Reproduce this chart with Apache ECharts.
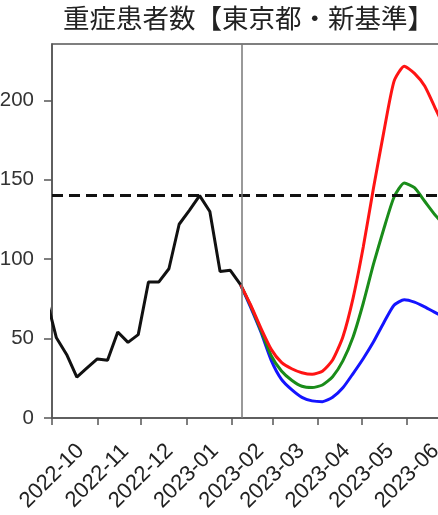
<!DOCTYPE html>
<html><head><meta charset="utf-8">
<script src="https://cdn.jsdelivr.net/npm/echarts@6/dist/echarts.min.js"></script>
<style>html,body{margin:0;padding:0;background:#fff}#c{width:438px;height:515px}</style>
</head><body><div id="c"></div>
<script>
// ---- data ----
const titleText = '重症患者数【東京都・新基準】';
const monthTicks = ['2022-10-01','2022-11-01','2022-12-01','2023-01-01','2023-02-01','2023-03-01','2023-04-01','2023-05-01','2023-06-01'];
const yTicks = [0, 50, 100, 150, 200];
const actualDates = ['2022-09-27','2022-10-04','2022-10-11','2022-10-18','2022-10-25','2022-11-01','2022-11-08','2022-11-15','2022-11-22','2022-11-29','2022-12-06','2022-12-13','2022-12-20','2022-12-27','2023-01-03','2023-01-10','2023-01-17','2023-01-24','2023-01-31','2023-02-07'];
const actualValues = [76, 50.5, 40, 25.8, 31.5, 37.2, 36.3, 54.2, 47.6, 52.5, 85.6, 85.6, 94, 122, 130.7, 140, 130, 92.3, 93, 84];
const forecastDates = ['2023-02-07','2023-02-14','2023-02-21','2023-02-28','2023-03-07','2023-03-14','2023-03-21','2023-03-28','2023-04-04','2023-04-11','2023-04-18','2023-04-25','2023-05-02','2023-05-09','2023-05-16','2023-05-23','2023-05-30','2023-06-06','2023-06-13','2023-06-20','2023-06-27'];
const redValues   = [84, 71, 56.4, 43.2, 35, 31, 28.5, 27.5, 29.5, 36.5, 51, 75.5, 107.8, 145, 180, 212, 221.5, 217, 209, 195.5, 182];
const greenValues = [84, 70.5, 55, 39.2, 29.6, 23.8, 20, 19.2, 20.8, 26, 36, 51, 72.4, 97, 119, 139, 148, 145, 136.5, 128, 121];
const blueValues  = [84, 69.5, 54, 36.3, 24.3, 17.8, 13, 10.8, 10.3, 13, 19, 28, 37.5, 48, 60, 71, 74.5, 73, 70, 66.5, 63];
const thresholdValue = 140;
const forecastStart = '2023-02-08';
const xMinDate = '2022-10-01';
const xMaxDate = '2023-07-01';
const yMax = 235.5;

// ---- helpers ----
const ts = s => { const p = s.split('-').map(Number); return Date.UTC(p[0], p[1]-1, p[2]); };
const pairs = (d, v) => d.map((s, i) => [ts(s), v[i]]);
const fmt = v => { const d = new Date(v); return d.getUTCFullYear() + '-' + String(d.getUTCMonth()+1).padStart(2,'0'); };

const chart = echarts.init(document.getElementById('c'), null, {renderer: 'canvas'});
const axisCol = '#555';
chart.setOption({
  animation: false,
  backgroundColor: '#fff',
  title: {
    text: titleText, left: 63, top: 5, padding: 0,
    textStyle: {fontFamily: 'Noto Sans CJK JP', fontSize: 26.5, fontWeight: 'normal', color: '#222'}
  },
  grid: {left: 52, top: 44, width: 399, height: 374, show: true, borderColor: axisCol, borderWidth: 1.5,
         backgroundColor: 'transparent', containLabel: false, outerBoundsMode: 'none'},
  xAxis: {
    type: 'value', min: ts(xMinDate), max: ts(xMaxDate),
    splitLine: {show: false},
    axisLine: {lineStyle: {color: axisCol, width: 1.5}},
    axisTick: {show: true, inside: false, length: 7, lineStyle: {color: axisCol, width: 1.5}, customValues: monthTicks.map(ts)},
    axisLabel: {
      customValues: monthTicks.map(ts), formatter: fmt, rotate: 45,
      align: 'center', verticalAlign: 'middle', margin: 58,
      fontFamily: 'Liberation Sans', fontSize: 22, color: '#222'
    }
  },
  yAxis: {
    type: 'value', min: 0, max: yMax,
    splitLine: {show: false},
    axisLine: {show: true, lineStyle: {color: axisCol, width: 1.5}},
    axisTick: {show: true, inside: false, length: 8, lineStyle: {color: axisCol, width: 1.5}, customValues: yTicks},
    axisLabel: {customValues: yTicks, margin: 18, fontFamily: 'Liberation Sans', fontSize: 20.5, color: '#333'}
  },
  series: [
    {type: 'line', data: pairs(forecastDates, blueValues), symbol: 'none', smooth: 0.2, lineStyle: {color: '#1414ff', width: 3}, z: 2},
    {type: 'line', data: pairs(forecastDates, greenValues), symbol: 'none', smooth: 0.2, lineStyle: {color: '#1a8c1a', width: 3}, z: 3},
    {type: 'line', data: pairs(forecastDates, redValues), symbol: 'none', smooth: 0.2, lineStyle: {color: '#ff1414', width: 3}, z: 4},
    {type: 'line', data: pairs(actualDates, actualValues), symbol: 'none', lineStyle: {color: '#111', width: 3}, z: 5,
      markLine: {
        silent: true, symbol: ['none','none'], label: {show: false},
        data: [
          {yAxis: thresholdValue, lineStyle: {color: '#111', width: 3, type: [11, 6]}},
          {xAxis: ts(forecastStart), lineStyle: {color: '#777', width: 1.5, type: 'solid'}}
        ]
      }
    }
  ]
});
</script>
</body></html>
